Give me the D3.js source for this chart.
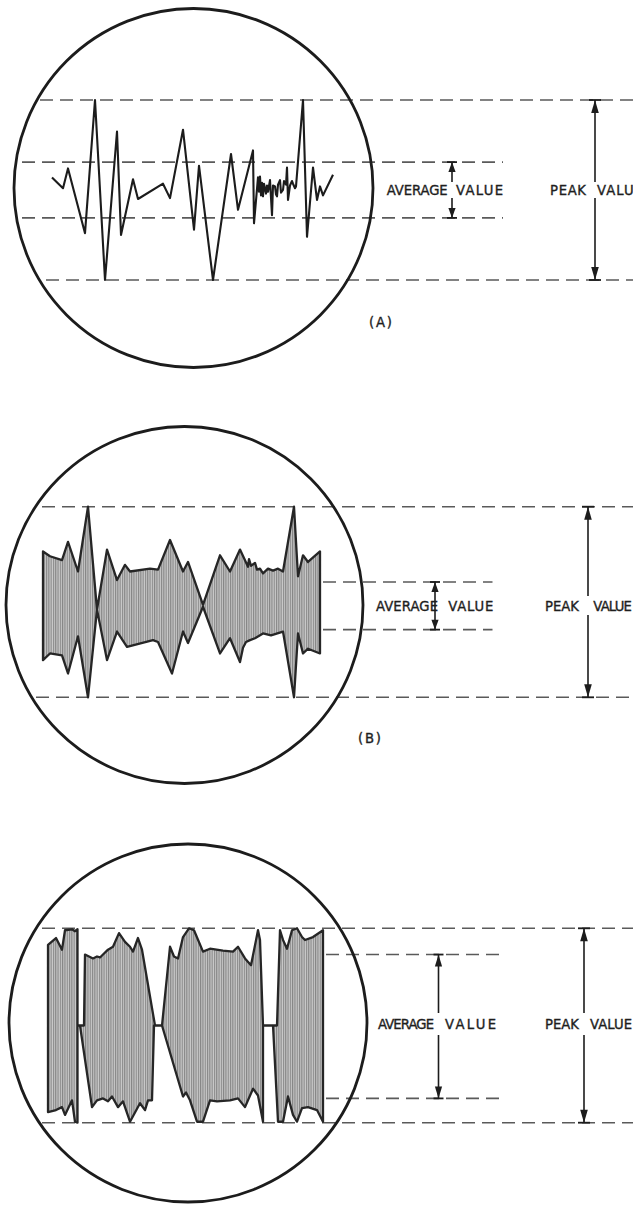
<!DOCTYPE html>
<html><head><meta charset="utf-8">
<script src="https://cdn.jsdelivr.net/npm/d3@7"></script>
<style>html,body{margin:0;padding:0;background:#fff;overflow:hidden}</style>
</head><body>
<svg id="c" width="633" height="1205"></svg>
<script>
// ---------- DATA (time in arbitrary units, amplitude in % of peak) ----------
// (A) single complex waveform
const aTime = [2,13,18,35,45,55,67,71,83,88,113,120,133,144,149,163,181,188,203,204,
  208,209,210,211,212,213,214,216,217,218,220,222,223,225,226,227,228,230,231,233,234,236,237,238,240,242,243,245,246,
  253,257,263,267,270,273,283];
const aAmp = [14,2,24,-48,100,-100,65,-50,12,-10,7,-9,67,-44,27,-100,40,-22,44,-37,
  14,-2,15,-6,8,-7,7,-4,5,-2,11,-28,5,4,-5,-7,6,11,-3,0,10,6,25,-11,5,10,7,2,4,
  100,-52,25,-11,4,-6,17];

// (B) modulated carrier: upper and lower envelope
const bUpperTime = [0,7,19,25,35,45,54,64,74,82,87,107,115,127,140,145,160,177,187,197,205,206,208,212,214,217,220,225,230,235,240,251,255,260,265,277];
const bUpper     = [53,48,44,63,32,100,-8,55,23,39,32,35,34,65,32,42,-3,49,32,55,37,45,38,41,34,35,30,35,33,35,32,100,27,49,42,53];
const bLowerTime = [0,7,19,25,35,45,54,64,74,84,110,115,129,140,145,160,177,187,197,200,203,207,212,220,228,240,251,255,260,265,277];
const bLower     = [-61,-54,-56,-75,-36,-100,-8,-61,-31,-47,-40,-42,-75,-31,-43,-5,-54,-38,-63,-48,-42,-40,-38,-33,-35,-31,-100,-33,-54,-49,-54];

// (C) heavily modulated carrier in bursts
const cUpperTime = [0,8,14,17,24,27,29.5,29.5,36,37,45,49,52,55,60,65,71,77,82,85,90,94,107,114,122,126,130,135,141,146,155,162,175,185,190,197,203,210,212,215,225,229,232,235,239,244,249,254,257,265,275];
const cUpper     = [83,90,78,98,99,97,99,0,0,73,69,71,70,73,78,81,95,86,81,76,90,78,0,0,81,71,69,91,100,98,76,79,77,76,81,69,62,98,88,0,0,0,98,88,79,98,100,91,88,91,98];
const cLowerTime = [0,8,14,17,24,27,29.5,29.5,32,44,49,55,60,64,70,75,82,92,97,100,104,106,114,135,138,142,149,155,162,169,182,190,197,205,210,215,215,225,230,235,240,245,249,254,260,269,275];
const cLower     = [-89,-87,-84,-92,-77,-99,-100,0,0,-84,-77,-75,-78,-73,-84,-78,-99,-80,-87,-77,-77,0,0,-73,-69,-77,-99,-99,-77,-78,-77,-75,-84,-65,-72,-99,0,0,-99,-99,-73,-92,-99,-85,-84,-87,-99];

const peakLevels = [100, -100];
const avgA = [31, -31];
const avgB = [21, -29];
const avgC = [73, -75];
const avgWords = ["AVERAGE", "VALUE"];
const peakWords = ["PEAK", "VALUE"];
const panelTags = ["(A)", "(B)"];

// ---------- DRAWING ----------
const svg = d3.select("#c");
const defs = svg.append("defs");
const pat = defs.append("pattern").attr("id","hatch").attr("patternUnits","userSpaceOnUse")
  .attr("width",2.3).attr("height",10);
pat.append("rect").attr("width",2.3).attr("height",10).attr("fill","#c9c9c9");
pat.append("line").attr("x1",0.6).attr("x2",0.6).attr("y1",0).attr("y2",10)
  .attr("stroke","#767676").attr("stroke-width",0.9);

const INK = "#1c1c1c", DASH = "#5a5a5a";
const FONT = "'DejaVu Sans', sans-serif";

function head(g, x, yTip, dir, len, hw) {
  g.append("path")
    .attr("d", `M${x},${yTip} L${x-hw},${yTip+dir*len} L${x+hw},${yTip+dir*len} Z`)
    .attr("fill", INK);
}
function seg(g, x1, y1, x2, y2, w) {
  g.append("line").attr("x1",x1).attr("y1",y1).attr("x2",x2).attr("y2",y2)
    .attr("stroke",INK).attr("stroke-width",w||1.6);
}
function word(g, txt, x, y, len) {
  g.append("text").attr("x",x).attr("y",y).text(txt)
    .attr("font-family",FONT).attr("font-size",13.2).attr("fill","#1e1e1e")
    .attr("stroke","#1e1e1e").attr("stroke-width",0.35)
    .attr("textLength",len).attr("lengthAdjust","spacing");
}

const panels = [
  {circle:[193.5,188,179.5], x:[50,333], y:[280,100], tmax:283, avg:avgA,
   peakDash:[[40,633],[46,633]], avgDash:[22,503],
   avgArrowX:452, avgGap:[182,198], avgHead:10,
   peakArrowX:595, peakGap:[182,198],
   textY:195, avgText:[[386.7,61],[456,47]], peakText:[[550,36],[597,46]],
   tag:0, tagPos:[369,327]},
  {circle:[184.5,605,178.5], x:[43,320], y:[697.3,506.7], tmax:277, avg:avgB,
   peakDash:[[42,633],[36,633]], avgDash:[323,492.5],
   avgArrowX:435, avgGap:null, avgHead:10,
   peakArrowX:588, peakGap:[596,615],
   textY:611, avgText:[[376,62],[448.3,45]], peakText:[[545,34],[593.3,38.5]],
   tag:1, tagPos:[358,743]},
  {circle:[188,1023,179], x:[48,323], y:[1122.7,928.3], tmax:275, avg:avgC,
   peakDash:[[42,633],[42,633]], avgDash:[326,499],
   avgArrowX:438.5, avgGap:[1013,1035], avgHead:12,
   peakArrowX:584, peakGap:[1013,1035],
   textY:1029, avgText:[[378,56],[445,51]], peakText:[[545,34],[590,42]],
   tag:null}
];

panels.forEach((p, i) => {
  const g = svg.append("g");
  const xs = d3.scaleLinear().domain([0, p.tmax]).range(p.x);
  const ys = d3.scaleLinear().domain([-100, 100]).range(p.y);

  // dashed reference lines
  peakLevels.forEach((v, k) => {
    g.append("line").attr("x1",p.peakDash[k][0]).attr("x2",p.peakDash[k][1])
      .attr("y1",ys(v)).attr("y2",ys(v))
      .attr("stroke",DASH).attr("stroke-width",1.6).attr("stroke-dasharray","13,7");
  });
  p.avg.forEach(v => {
    g.append("line").attr("x1",p.avgDash[0]).attr("x2",p.avgDash[1])
      .attr("y1",ys(v)).attr("y2",ys(v))
      .attr("stroke",DASH).attr("stroke-width",1.6).attr("stroke-dasharray","13,7");
  });

  // waveform
  if (i === 0) {
    const pts = aTime.map((t, j) => [xs(t), ys(aAmp[j])]);
    g.append("path").attr("d", d3.line()(pts))
      .attr("fill","none").attr("stroke",INK).attr("stroke-width",2.1)
      .attr("stroke-linejoin","round");
  } else {
    const ut = i === 1 ? bUpperTime : cUpperTime, uv = i === 1 ? bUpper : cUpper;
    const lt = i === 1 ? bLowerTime : cLowerTime, lv = i === 1 ? bLower : cLower;
    const up = ut.map((t, j) => [xs(t), ys(uv[j])]);
    const lo = lt.map((t, j) => [xs(t), ys(lv[j])]).reverse();
    g.append("path").attr("d", d3.line()(up.concat(lo)) + "Z")
      .attr("fill","url(#hatch)").attr("stroke","#262626").attr("stroke-width",2.3)
      .attr("stroke-linejoin","round");
  }

  // circle (scope face)
  g.append("circle").attr("cx",p.circle[0]).attr("cy",p.circle[1]).attr("r",p.circle[2])
    .attr("fill","none").attr("stroke",INK).attr("stroke-width",2.8);

  // average value arrow
  const ax = p.avgArrowX, aTop = ys(p.avg[0]), aBot = ys(p.avg[1]);
  if (p.avgGap) {
    seg(g, ax, aTop, ax, p.avgGap[0]);
    seg(g, ax, p.avgGap[1], ax, aBot);
  } else {
    seg(g, ax, aTop, ax, aBot);
  }
  seg(g, ax-5, aTop, ax+5, aTop, 1.8);
  seg(g, ax-5, aBot, ax+5, aBot, 1.8);
  head(g, ax, aTop, 1, p.avgHead, 3.6);
  head(g, ax, aBot, -1, p.avgHead, 3.6);

  // peak value arrow
  const px = p.peakArrowX, pTop = ys(peakLevels[0]), pBot = ys(peakLevels[1]);
  seg(g, px, pTop, px, p.peakGap[0]);
  seg(g, px, p.peakGap[1], px, pBot);
  seg(g, px-6, pTop, px+6, pTop, 1.8);
  seg(g, px-6, pBot, px+6, pBot, 1.8);
  head(g, px, pTop, 1, 13, 3.8);
  head(g, px, pBot, -1, 13, 3.8);

  // labels
  avgWords.forEach((w, k) => word(g, w, p.avgText[k][0], p.textY, p.avgText[k][1]));
  peakWords.forEach((w, k) => word(g, w, p.peakText[k][0], p.textY, p.peakText[k][1]));
  if (p.tag !== null) {
    g.append("text").attr("x",p.tagPos[0]).attr("y",p.tagPos[1]).text(panelTags[p.tag])
      .attr("font-family",FONT).attr("font-size",13.2).attr("fill","#1e1e1e")
      .attr("stroke","#1e1e1e").attr("stroke-width",0.35)
      .attr("textLength",23).attr("lengthAdjust","spacing");
  }
});
</script>
</body></html>
